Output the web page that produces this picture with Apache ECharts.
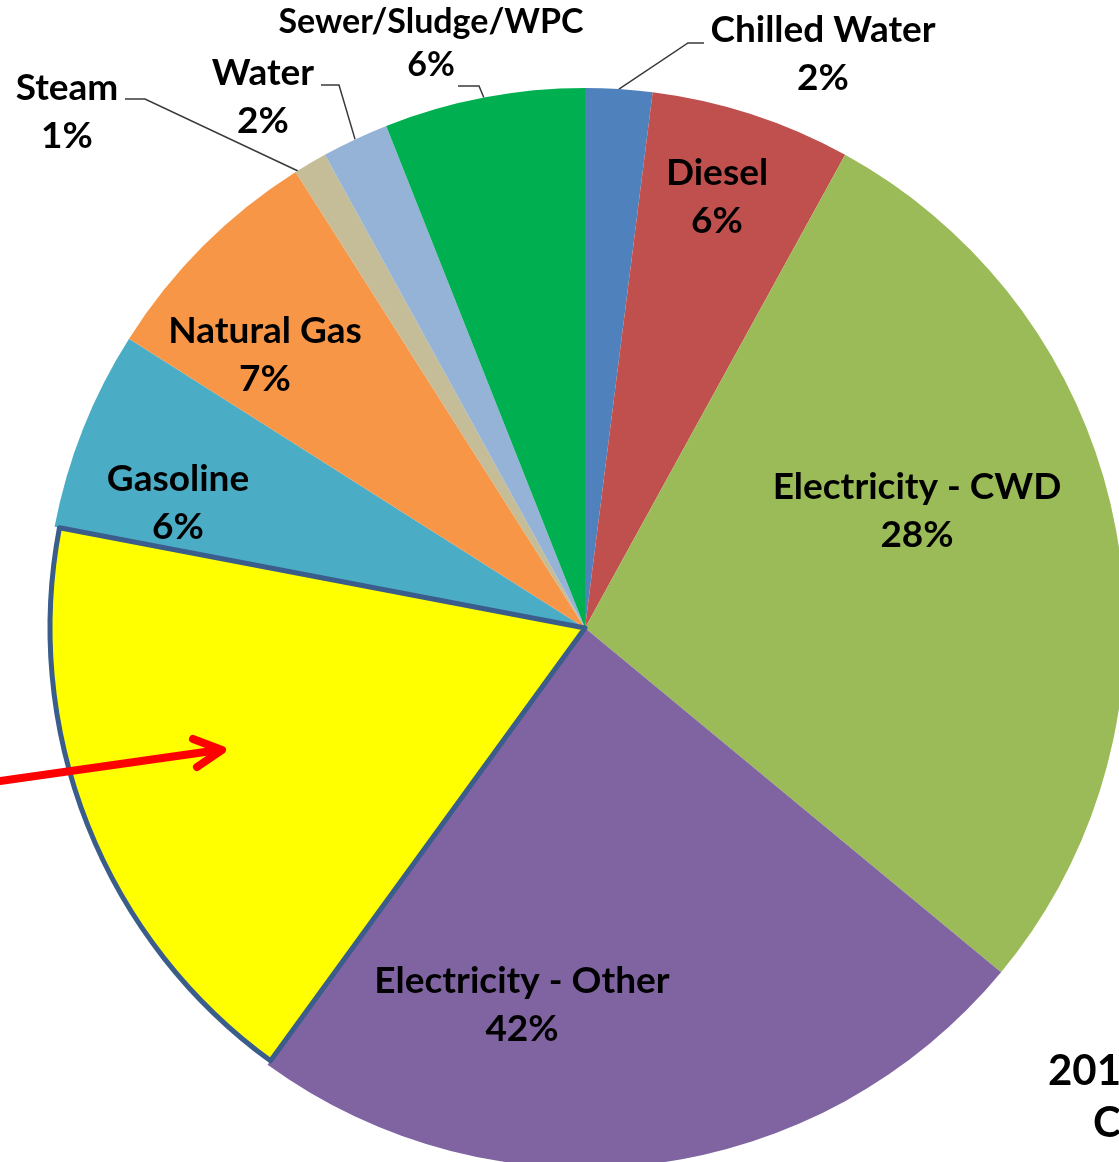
<!DOCTYPE html>
<html>
<head>
<meta charset="utf-8">
<title>Energy use by source</title>
<script src="https://cdn.jsdelivr.net/npm/echarts@6/dist/echarts.min.js"></script>
<style>
  html, body { margin: 0; padding: 0; background: #ffffff; }
  #chart { width: 1119px; height: 1162px; }
</style>
</head>
<body>
<div id="chart"></div>
<script>
// Shares by source, clockwise from twelve o'clock (percent)
const categories = ['Chilled Water', 'Diesel', 'Electricity - CWD', 'Electricity - Other',
                    'Gasoline', 'Natural Gas', 'Steam', 'Water', 'Sewer/Sludge/WPC'];
const shares = [2, 6, 28, 42, 6, 7, 1, 2, 6];
const colors = ['#4f81bd', '#c0504d', '#9bbb59', '#8064a2',
                '#4bacc6', '#f79646', '#c4bd97', '#95b3d7', '#00b050'];

// The part of "Electricity - Other" singled out in yellow (percent of the whole)
const highlightOf = 'Electricity - Other';
const highlightShare = 18;
const highlightKey = 'highlight';

// Pie geometry
const CX = 585, CY = 628, R = 540;

// Label placement: text centre, plus elbow/end points for leader lines
const labelPlace = {
  'Chilled Water':       { at: [823, 54],  line: [[688, 43], [704, 43]] },
  'Diesel':              { at: [717, 197] },
  'Electricity - CWD':   { at: [917, 511] },
  'Electricity - Other': { at: [522, 1005] },
  'Gasoline':            { at: [178, 503] },
  'Natural Gas':         { at: [265, 355] },
  'Steam':               { at: [67, 112],  line: [[145, 99], [125, 99]], from: [298, 171] },
  'Water':               { at: [263, 97],  line: [[339, 85], [321, 85]] },
  'Sewer/Sludge/WPC':    { at: [431, 44],  line: [[479, 86], [458, 86]], size: 34, lh: 43 }
};

const FONT = 'Lato, "Open Sans", "Noto Sans", sans-serif';

// Build pie items; the highlighted category is split into its plain and yellow parts
const pieData = [];
const overlayData = [];
categories.forEach(function (name, i) {
  const spec = labelPlace[name] || {};
  const outside = !!spec.line;
  const labelCfg = {
    show: true,
    position: outside ? 'outside' : 'inside',
    fontSize: spec.size || 37,
    lineHeight: spec.lh || 48
  };
  if (name === highlightOf) {
    pieData.push({ name: name, value: shares[i] - highlightShare,
                   itemStyle: { color: colors[i] }, label: labelCfg,
                   labelLine: { show: false } });
    pieData.push({ name: highlightKey, value: highlightShare,
                   itemStyle: { color: 'transparent' }, label: { show: false },
                   labelLine: { show: false } });
    overlayData.push({ name: name, value: shares[i] - highlightShare,
                       itemStyle: { color: 'transparent', borderWidth: 0 } });
    overlayData.push({ name: highlightKey, value: highlightShare,
                       itemStyle: { color: '#ffff00', borderColor: '#3a5d8c', borderWidth: 5 } });
  } else {
    pieData.push({ name: name, value: shares[i],
                   itemStyle: { color: colors[i] }, label: labelCfg,
                   labelLine: { show: outside } });
    overlayData.push({ name: name, value: shares[i],
                       itemStyle: { color: 'transparent', borderWidth: 0 } });
  }
});

function shareOf(name) {
  const i = categories.indexOf(name);
  return i >= 0 ? shares[i] : null;
}

const chart = echarts.init(document.getElementById('chart'), null, { renderer: 'canvas' });

chart.setOption({
  animation: false,
  backgroundColor: '#ffffff',
  series: [
    {
      type: 'pie',
      center: [CX, CY],
      radius: R,
      startAngle: 90,
      clockwise: true,
      avoidLabelOverlap: false,
      minAngle: 0,
      silent: true,
      itemStyle: { borderWidth: 0 },
      label: {
        color: '#000000',
        fontFamily: FONT,
        fontWeight: 'bold',
        align: 'center',
        formatter: function (p) { return p.name + '\n' + shareOf(p.name) + '%'; }
      },
      labelLine: {
        show: true,
        length: 20,
        length2: 20,
        lineStyle: { color: '#3a3a3a', width: 1.5 }
      },
      labelLayout: function (p) {
        const item = pieData[p.dataIndex];
        const spec = item && labelPlace[item.name];
        if (!spec) return {};
        const out = { x: spec.at[0], y: spec.at[1], align: 'center', verticalAlign: 'middle' };
        if (spec.line && p.labelLinePoints) {
          out.labelLinePoints = [spec.from || p.labelLinePoints[0], spec.line[0], spec.line[1]];
        }
        return out;
      },
      data: pieData
    },
    {
      // yellow highlight laid over the pie
      type: 'pie',
      center: [CX, CY],
      radius: R - 5,
      startAngle: 90,
      clockwise: true,
      silent: true,
      label: { show: false },
      labelLine: { show: false },
      data: overlayData
    }
  ],
  graphic: [
    {
      type: 'polyline',
      shape: { points: [[0, 781], [219, 750]] },
      style: { stroke: '#ff0000', lineWidth: 8, lineCap: 'round', fill: null },
      z: 100
    },
    {
      type: 'polyline',
      shape: { points: [[193, 739], [222, 750], [197, 767]] },
      style: { stroke: '#ff0000', lineWidth: 8, lineCap: 'round', lineJoin: 'round', fill: null },
      z: 100
    },
    {
      type: 'text',
      left: 1048, top: 1050,
      style: { text: '201', fill: '#000000', font: 'bold 42px ' + FONT },
      z: 100
    },
    {
      type: 'text',
      left: 1093, top: 1102,
      style: { text: 'C', fill: '#000000', font: 'bold 42px ' + FONT },
      z: 100
    }
  ]
});
</script>
</body>
</html>
